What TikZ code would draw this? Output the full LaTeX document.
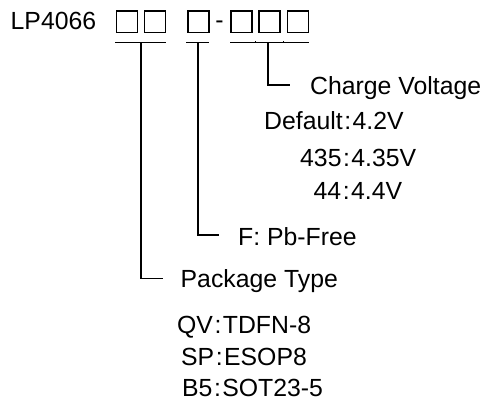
\documentclass[tikz,border=0pt]{standalone}
\usepackage{fontspec}
\setmainfont{Liberation Sans}
\begin{document}
\begin{tikzpicture}[x=1pt,y=-1pt,
  txt/.style={anchor=base west,inner sep=0pt,font=\fontsize{24.8}{28}\selectfont},
  digit/.style={draw,line width=1.5pt,minimum width=21pt,minimum height=21.5pt,inner sep=0pt,anchor=north west},
  ln/.style={line width=1.5pt}]
\useasboundingbox (0,0) rectangle (485,400);
% header
\node[txt] (lp) at (10.5,29.3) {LP4066};
\node[digit] (b1) at (115.5,10.3) {};
\node[digit] (b2) at (143.5,10.3) {};
\node[digit] (b3) at (187,10.3) {};
\node[txt,anchor=base] (dash) at (219.4,28) {-};
\node[digit] (b4) at (230,10.3) {};
\node[digit] (b5) at (258.3,10.3) {};
\node[digit] (b6) at (286.6,10.3) {};
% underlines
\coordinate (u1a) at (115,42.5); \coordinate (u1b) at (166,42.5);
\coordinate (u2a) at (186,42.5); \coordinate (u2b) at (208.5,42.5);
\coordinate (u3a) at (230,42.5); \coordinate (u3b) at (308.5,42.5);
\draw[ln] (u1a) -- (u1b);
\draw[ln] (u2a) -- (u2b);
\draw[ln] (u3a) -- (u3b);
\draw[line width=0.6pt] (255,42.5) -- (255,40.5) (283.5,42.5) -- (283.5,40.5);
% labels
\node[txt] (cv) at (310,94.3) {Charge Voltage};
\node[txt] (d1) at (264,129.3) {Default\kern1.5pt:\kern1.5pt4.2V};
\node[txt] (d2) at (300,166.7) {435\kern1.5pt:\kern1.5pt4.35V};
\node[txt] (d3) at (313.5,199) {44\kern1.5pt:\kern1.5pt4.4V};
\node[txt] (pb) at (238,245) {F: Pb-Free};
\node[txt] (pt) at (180.5,287.3) {Package Type};
\node[txt] (p1) at (177,333.3) {QV\kern1.5pt:\kern1.5pt TDFN-8};
\node[txt] (p2) at (181,365) {SP\kern1.5pt:\kern1.5pt ESOP8};
\node[txt] (p3) at (182,396.5) {B5\kern1.5pt:\kern1.5pt SOT23-5};
% connectors
\coordinate (v1) at (141,42.5); \coordinate (c1) at (141,278.5); \coordinate (e1) at (163,278.5);
\coordinate (v2) at (198,42.5); \coordinate (c2) at (198,235); \coordinate (e2) at (219,235);
\coordinate (v3) at (268,42.5); \coordinate (c3) at (268,85); \coordinate (e3) at (290,85);
\draw[ln] (v1) -- (c1) -- (e1);
\draw[ln] (v2) -- (c2) -- (e2);
\draw[ln] (v3) -- (c3) -- (e3);
\end{tikzpicture}
\end{document}
